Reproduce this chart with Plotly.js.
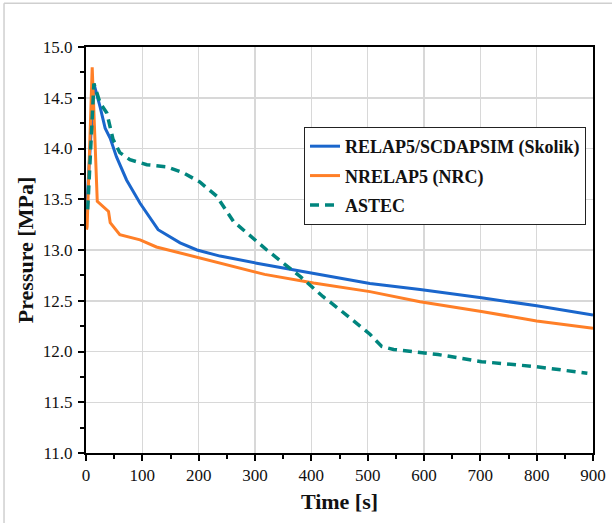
<!DOCTYPE html>
<html>
<head>
<meta charset="utf-8">
<script src="https://cdn.plot.ly/plotly-3.0.1.min.js"></script>
<style>
html,body{margin:0;padding:0;background:#fff;}
#chart{width:612px;height:523px;}
</style>
</head>
<body>
<div id="chart"></div>
<script>
// RELAP5/SCDAPSIM (Skolik)
const relapT = [0, 14, 25, 34, 43, 54, 72, 96, 128, 143, 167, 197, 238, 303, 404, 504, 593, 702, 800, 900];
const relapP = [13.30, 14.64, 14.41, 14.20, 14.10, 13.92, 13.69, 13.46, 13.20, 13.15, 13.07, 13.00, 12.94, 12.87, 12.77, 12.67, 12.61, 12.53, 12.45, 12.36];

// NRELAP5 (NRC)
const nrelapT = [1, 2, 11, 20, 40, 43, 60, 96, 125, 167, 202, 238, 317, 404, 504, 593, 702, 800, 900];
const nrelapP = [13.20, 13.23, 14.80, 13.48, 13.38, 13.27, 13.15, 13.10, 13.03, 12.97, 12.92, 12.87, 12.76, 12.675, 12.59, 12.49, 12.395, 12.30, 12.23];

// ASTEC
const astecT = [3, 14, 25, 37, 48, 60, 78, 108, 143, 173, 202, 232, 262, 321, 380, 421, 451, 475, 504, 525, 546, 593, 625, 702, 800, 890];
const astecP = [13.40, 14.64, 14.45, 14.35, 14.09, 13.96, 13.89, 13.84, 13.82, 13.76, 13.67, 13.53, 13.28, 13.00, 12.74, 12.54, 12.41, 12.30, 12.17, 12.05, 12.02, 11.99, 11.97, 11.90, 11.85, 11.785];

const seriesNames = ["RELAP5/SCDAPSIM (Skolik)", "NRELAP5 (NRC)", "ASTEC"];
const xTicks = [0, 100, 200, 300, 400, 500, 600, 700, 800, 900];
const yTicks = [11.0, 11.5, 12.0, 12.5, 13.0, 13.5, 14.0, 14.5, 15.0];

const serif = "'Liberation Serif', serif";

const traces = [
  {x: relapT, y: relapP, name: seriesNames[0], mode: "lines", legendgroup: "a",
   line: {color: "#1a66cc", width: 3}},
  {x: nrelapT, y: nrelapP, name: seriesNames[1], mode: "lines", legendgroup: "b",
   line: {color: "#ff7f27", width: 3}},
  {x: astecT, y: astecP, name: seriesNames[2], mode: "lines", legendgroup: "c",
   line: {color: "#00857e", width: 3.5, dash: "9px,6px"}}
];

const layout = {
  width: 612, height: 523,
  margin: {l: 86, r: 19, t: 47, b: 70},
  paper_bgcolor: "#fff", plot_bgcolor: "#fff",
  showlegend: true,
  font: {family: serif, color: "#111"},
  xaxis: {
    range: [0, 900], tickvals: xTicks, ticktext: xTicks.map(String),
    showline: true, linecolor: "#000", linewidth: 2, mirror: true,
    ticks: "outside", ticklen: 6, tickwidth: 2, tickcolor: "#000",
    minor: {dtick: 50, ticks: "outside", ticklen: 4, tickwidth: 2, tickcolor: "#000", showgrid: false},
    showgrid: true, gridcolor: "#d8d8d8", gridwidth: 1.5,
    zeroline: false,
    tickfont: {family: serif, size: 17, color: "#111"},
    title: {text: "Time [s]", font: {family: serif, size: 22, weight: "bold", color: "#111"}, standoff: 9}
  },
  yaxis: {
    range: [11, 15], tickvals: yTicks, ticktext: yTicks.map(v => v.toFixed(1)),
    showline: true, linecolor: "#000", linewidth: 2, mirror: true,
    ticks: "outside", ticklen: 6, tickwidth: 2, tickcolor: "#000",
    minor: {dtick: 0.25, ticks: "outside", ticklen: 4, tickwidth: 2, tickcolor: "#000", showgrid: false},
    showgrid: true, gridcolor: "#d8d8d8", gridwidth: 1.5,
    zeroline: false,
    tickfont: {family: serif, size: 17, color: "#111"},
    ticklabelstandoff: 2,
    title: {text: "Pressure [MPa]", font: {family: serif, size: 22, weight: "bold", color: "#111"}, standoff: 3}
  },
  legend: {
    x: 0.43, y: 0.803, xanchor: "left", yanchor: "top",
    traceorder: "grouped", tracegroupgap: 3,
    bgcolor: "#fff", bordercolor: "#222", borderwidth: 1,
    font: {family: serif, size: 18, weight: "bold", color: "#111"}
  },
  shapes: [
    {type: "line", xref: "paper", yref: "paper", x0: -0.1617, x1: -0.1617, y0: 1.108, y1: -0.2,
     line: {color: "#cfcfcf", width: 1.5}},
    {type: "line", xref: "paper", yref: "paper", x0: -0.1617, x1: 1.05, y0: 1.108, y1: 1.108,
     line: {color: "#cfcfcf", width: 1.5}}
  ]
};

Plotly.newPlot("chart", traces, layout, {displayModeBar: false, staticPlot: true});
</script>
</body>
</html>
